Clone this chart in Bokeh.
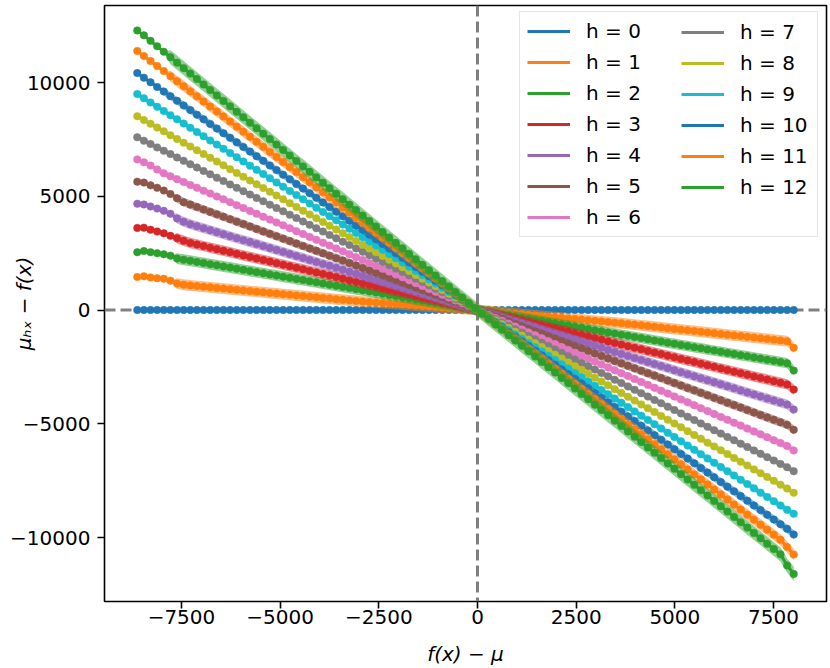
import math
from bokeh.plotting import figure
from bokeh.models import (Span, Legend, LegendItem, FixedTicker,
                          CustomJSTickFormatter, ColumnDataSource, Range1d)
from bokeh.embed import file_html
from bokeh.resources import INLINE

x_values = [
    -8620, -8452, -8284, -8116, -7948, -7780, -7612, -7444, -7276, -7108,
    -6940, -6772, -6604, -6436, -6268, -6100, -5932, -5764, -5596, -5428,
    -5260, -5092, -4924, -4756, -4588, -4420, -4252, -4084, -3916, -3748,
    -3580, -3412, -3244, -3076, -2908, -2740, -2572, -2404, -2236, -2068,
    -1900, -1732, -1564, -1396, -1228, -1060, -892, -724, -556, -388,
    -220, -52, 116, 284, 452, 620, 788, 956, 1124, 1292,
    1460, 1628, 1796, 1964, 2132, 2300, 2468, 2636, 2804, 2972,
    3140, 3308, 3476, 3644, 3812, 3980, 4148, 4316, 4484, 4652,
    4820, 4988, 5156, 5324, 5492, 5660, 5828, 5996, 6164, 6332,
    6500, 6668, 6836, 7004, 7172, 7340, 7508, 7676, 7844, 8012]

h0 = [
    0, 0, 0, 0, 0, 0, 0, 0, 0, 0,
    0, 0, 0, 0, 0, 0, 0, 0, 0, 0,
    0, 0, 0, 0, 0, 0, 0, 0, 0, 0,
    0, 0, 0, 0, 0, 0, 0, 0, 0, 0,
    0, 0, 0, 0, 0, 0, 0, 0, 0, 0,
    0, 0, 0, 0, 0, 0, 0, 0, 0, 0,
    0, 0, 0, 0, 0, 0, 0, 0, 0, 0,
    0, 0, 0, 0, 0, 0, 0, 0, 0, 0,
    0, 0, 0, 0, 0, 0, 0, 0, 0, 0,
    0, 0, 0, 0, 0, 0, 0, 0, 0, 0]

h1 = [
    1450, 1480, 1430, 1400, 1370, 1290, 1160, 1110, 1078, 1051,
    1023, 996, 968, 941, 914, 886, 859, 831, 804, 777,
    749, 722, 694, 667, 640, 612, 585, 557, 530, 503,
    475, 448, 420, 393, 369, 348, 327, 305, 284, 263,
    241, 220, 199, 177, 156, 135, 113, 92, 71, 49,
    28, 7, -19, -45, -72, -99, -126, -153, -180, -207,
    -234, -260, -287, -314, -341, -368, -395, -422, -449, -476,
    -502, -529, -556, -583, -610, -642, -674, -705, -737, -768,
    -800, -832, -863, -895, -926, -958, -990, -1021, -1053, -1084,
    -1116, -1148, -1179, -1211, -1242, -1274, -1306, -1337, -1369, -1660]

h2 = [
    2540, 2590, 2540, 2500, 2450, 2390, 2260, 2210, 2165, 2115,
    2065, 2015, 1965, 1915, 1865, 1815, 1765, 1715, 1665, 1615,
    1565, 1515, 1465, 1415, 1365, 1315, 1265, 1215, 1165, 1115,
    1065, 1015, 965, 915, 865, 815, 765, 715, 665, 615,
    565, 515, 465, 415, 365, 315, 265, 215, 165, 115,
    65, 15, -35, -85, -135, -185, -235, -285, -335, -385,
    -435, -485, -535, -585, -635, -685, -735, -785, -835, -885,
    -935, -985, -1035, -1085, -1135, -1185, -1235, -1285, -1335, -1385,
    -1435, -1485, -1535, -1585, -1635, -1685, -1735, -1785, -1835, -1885,
    -1935, -1985, -2035, -2085, -2135, -2185, -2235, -2285, -2335, -2660]

h3 = [
    3610, 3620, 3530, 3450, 3370, 3260, 3150, 3040, 2944, 2876,
    2808, 2740, 2672, 2604, 2536, 2468, 2400, 2332, 2264, 2196,
    2128, 2060, 1992, 1924, 1856, 1788, 1720, 1652, 1584, 1516,
    1448, 1380, 1312, 1244, 1176, 1108, 1040, 972, 904, 836,
    768, 700, 632, 564, 496, 428, 360, 292, 224, 156,
    88, 20, -49, -119, -189, -259, -329, -399, -469, -539,
    -609, -679, -749, -819, -889, -959, -1029, -1099, -1169, -1239,
    -1309, -1379, -1449, -1519, -1589, -1659, -1729, -1799, -1869, -1939,
    -2009, -2079, -2149, -2219, -2289, -2359, -2429, -2499, -2569, -2639,
    -2709, -2779, -2849, -2919, -2989, -3059, -3129, -3199, -3269, -3495]

h4 = [
    4670, 4640, 4550, 4460, 4360, 4230, 4020, 3880, 3767, 3680,
    3593, 3506, 3419, 3332, 3245, 3158, 3071, 2984, 2897, 2810,
    2723, 2636, 2549, 2462, 2375, 2288, 2201, 2114, 2027, 1940,
    1853, 1766, 1679, 1592, 1505, 1418, 1331, 1244, 1157, 1070,
    983, 896, 809, 722, 635, 548, 461, 374, 287, 200,
    113, 26, -62, -151, -240, -329, -418, -507, -596, -685,
    -774, -863, -952, -1041, -1130, -1219, -1308, -1397, -1486, -1575,
    -1664, -1753, -1842, -1931, -2020, -2109, -2198, -2287, -2376, -2465,
    -2554, -2643, -2732, -2821, -2910, -2999, -3088, -3177, -3266, -3355,
    -3444, -3533, -3622, -3711, -3800, -3889, -3978, -4067, -4156, -4375]

h5 = [
    5640, 5600, 5480, 5370, 5250, 5100, 4910, 4740, 4633, 4526,
    4419, 4312, 4205, 4098, 3991, 3884, 3777, 3670, 3563, 3456,
    3349, 3242, 3135, 3028, 2921, 2814, 2707, 2600, 2493, 2386,
    2279, 2172, 2065, 1958, 1851, 1744, 1637, 1530, 1423, 1316,
    1209, 1102, 995, 888, 781, 674, 567, 460, 353, 246,
    139, 32, -76, -184, -292, -400, -508, -616, -724, -832,
    -940, -1048, -1156, -1264, -1372, -1480, -1588, -1696, -1804, -1912,
    -2020, -2128, -2236, -2344, -2452, -2560, -2668, -2776, -2884, -2992,
    -3100, -3208, -3316, -3424, -3532, -3640, -3748, -3856, -3964, -4072,
    -4180, -4288, -4396, -4504, -4612, -4720, -4828, -4936, -5044, -5265]

h6 = [
    6620, 6490, 6350, 6180, 6007, 5880, 5753, 5626, 5499, 5372,
    5245, 5118, 4991, 4864, 4737, 4610, 4483, 4356, 4229, 4102,
    3975, 3848, 3721, 3594, 3467, 3340, 3213, 3086, 2959, 2832,
    2705, 2578, 2451, 2324, 2197, 2070, 1943, 1816, 1689, 1562,
    1435, 1308, 1181, 1054, 927, 800, 673, 546, 419, 292,
    165, 38, -90, -218, -346, -474, -602, -730, -858, -986,
    -1114, -1242, -1370, -1498, -1626, -1754, -1882, -2010, -2138, -2266,
    -2394, -2522, -2650, -2778, -2906, -3034, -3162, -3290, -3418, -3546,
    -3674, -3802, -3930, -4058, -4186, -4314, -4442, -4570, -4698, -4826,
    -4954, -5082, -5210, -5338, -5466, -5594, -5722, -5850, -5978, -6175]

h7 = [
    7592, 7444, 7296, 7148, 7000, 6852, 6704, 6556, 6408, 6260,
    6112, 5964, 5816, 5668, 5520, 5372, 5224, 5076, 4928, 4780,
    4632, 4484, 4336, 4188, 4040, 3892, 3744, 3596, 3448, 3300,
    3152, 3004, 2856, 2708, 2560, 2412, 2264, 2116, 1968, 1820,
    1672, 1524, 1376, 1228, 1080, 932, 784, 636, 488, 340,
    192, 44, -104, -252, -400, -548, -696, -844, -992, -1140,
    -1288, -1436, -1584, -1732, -1880, -2028, -2176, -2324, -2472, -2620,
    -2768, -2916, -3064, -3212, -3360, -3508, -3656, -3804, -3952, -4100,
    -4248, -4396, -4544, -4692, -4840, -4988, -5136, -5284, -5432, -5580,
    -5728, -5876, -6024, -6172, -6320, -6468, -6616, -6764, -6912, -7085]

h8 = [
    8516, 8350, 8184, 8018, 7852, 7686, 7520, 7354, 7188, 7022,
    6856, 6690, 6524, 6358, 6192, 6026, 5860, 5694, 5528, 5362,
    5196, 5030, 4864, 4698, 4532, 4366, 4200, 4034, 3868, 3702,
    3536, 3370, 3204, 3038, 2872, 2706, 2540, 2374, 2208, 2042,
    1876, 1710, 1544, 1378, 1212, 1046, 880, 714, 548, 382,
    216, 50, -118, -286, -454, -622, -790, -958, -1126, -1294,
    -1462, -1630, -1798, -1966, -2134, -2302, -2470, -2638, -2806, -2974,
    -3142, -3310, -3478, -3646, -3814, -3982, -4150, -4318, -4486, -4654,
    -4822, -4990, -5158, -5326, -5494, -5662, -5830, -5998, -6166, -6334,
    -6502, -6670, -6838, -7006, -7174, -7342, -7510, -7678, -7846, -8035]

h9 = [
    9490, 9305, 9120, 8935, 8750, 8565, 8380, 8195, 8010, 7825,
    7640, 7455, 7270, 7085, 6900, 6715, 6530, 6345, 6160, 5975,
    5790, 5605, 5420, 5235, 5050, 4865, 4680, 4495, 4310, 4125,
    3940, 3755, 3570, 3385, 3200, 3015, 2830, 2645, 2460, 2275,
    2090, 1905, 1720, 1535, 1350, 1165, 980, 795, 610, 425,
    240, 55, -132, -320, -508, -696, -884, -1072, -1260, -1448,
    -1636, -1824, -2012, -2200, -2388, -2576, -2764, -2952, -3140, -3328,
    -3516, -3704, -3892, -4080, -4268, -4456, -4644, -4832, -5020, -5208,
    -5396, -5584, -5772, -5960, -6148, -6336, -6524, -6712, -6900, -7088,
    -7276, -7464, -7652, -7840, -8028, -8216, -8404, -8592, -8780, -8960]

h10 = [
    10414, 10211, 10008, 9805, 9602, 9399, 9196, 8993, 8790, 8587,
    8384, 8181, 7978, 7775, 7572, 7369, 7166, 6963, 6760, 6557,
    6354, 6151, 5948, 5745, 5542, 5339, 5136, 4933, 4730, 4527,
    4324, 4121, 3918, 3715, 3512, 3309, 3106, 2903, 2700, 2497,
    2294, 2091, 1888, 1685, 1482, 1279, 1076, 873, 670, 467,
    264, 61, -144, -350, -556, -762, -968, -1174, -1380, -1586,
    -1792, -1998, -2204, -2410, -2616, -2822, -3028, -3234, -3440, -3646,
    -3852, -4058, -4264, -4470, -4676, -4882, -5088, -5294, -5500, -5706,
    -5912, -6118, -6324, -6530, -6736, -6942, -7148, -7354, -7560, -7766,
    -7972, -8178, -8384, -8590, -8796, -9002, -9208, -9414, -9620, -9870]

h11 = [
    11389, 11167, 10945, 10723, 10501, 10279, 10057, 9835, 9613, 9391,
    9169, 8947, 8725, 8503, 8281, 8059, 7837, 7615, 7393, 7171,
    6949, 6727, 6505, 6283, 6061, 5839, 5617, 5395, 5173, 4951,
    4729, 4507, 4285, 4063, 3841, 3619, 3397, 3175, 2953, 2731,
    2509, 2287, 2065, 1843, 1621, 1399, 1177, 955, 733, 511,
    289, 67, -155, -376, -597, -818, -1039, -1260, -1481, -1702,
    -1923, -2144, -2365, -2586, -2807, -3028, -3249, -3470, -3691, -3912,
    -4133, -4354, -4575, -4796, -5017, -5238, -5459, -5680, -5901, -6122,
    -6343, -6564, -6785, -7006, -7227, -7448, -7669, -7890, -8111, -8332,
    -8553, -8774, -8995, -9216, -9437, -9658, -9879, -10100, -10420, -10745]

h12 = [
    12290, 12072, 11832, 11592, 11352, 11112, 10872, 10632, 10392, 10152,
    9912, 9672, 9432, 9192, 8952, 8712, 8472, 8232, 7992, 7752,
    7512, 7272, 7032, 6792, 6552, 6312, 6072, 5832, 5592, 5352,
    5112, 4872, 4632, 4392, 4152, 3912, 3672, 3432, 3192, 2952,
    2712, 2472, 2232, 1992, 1752, 1512, 1272, 1032, 792, 552,
    312, 72, -165, -400, -635, -870, -1105, -1340, -1575, -1810,
    -2045, -2280, -2515, -2750, -2985, -3220, -3455, -3690, -3925, -4160,
    -4395, -4630, -4865, -5100, -5335, -5570, -5805, -6040, -6275, -6510,
    -6745, -6980, -7215, -7450, -7685, -7920, -8155, -8390, -8625, -8860,
    -9095, -9330, -9565, -9800, -10035, -10270, -10505, -10740, -11230, -11600]

series = [h0, h1, h2, h3, h4, h5, h6, h7, h8, h9, h10, h11, h12]
labels = ["h = 0", "h = 1", "h = 2", "h = 3", "h = 4", "h = 5", "h = 6",
          "h = 7", "h = 8", "h = 9", "h = 10", "h = 11", "h = 12"]
colors = ["#1f77b4", "#ff7f0e", "#2ca02c", "#d62728", "#9467bd", "#8c564b",
          "#e377c2", "#7f7f7f", "#bcbd22", "#17becf", "#1f77b4", "#ff7f0e",
          "#2ca02c"]
# half-width of the shaded band, left (x<0) and right (x>0) of the centre
band_left = [0, 240, 240, 230, 220, 190, 140, 100, 90, 110, 170, 240, 310]
band_right = [0, 240, 230, 230, 220, 200, 160, 130, 120, 140, 190, 250, 310]
band_start = [0, 6, 6, 6, 6, 6, 3, 0, 0, 0, 4, 5, 5]

x_ticks = [-7500, -5000, -2500, 0, 2500, 5000, 7500]
y_ticks = [-10000, -5000, 0, 5000, 10000]

FONT = "DejaVu Sans"

p = figure(width=828, height=668, output_backend="svg", toolbar_location=None,
           x_range=Range1d(-9450, 8842), y_range=Range1d(-12813, 13385),
           min_border_left=104, min_border_right=2, min_border_top=5,
           min_border_bottom=67)
p.xgrid.visible = False
p.ygrid.visible = False
p.background_fill_color = "white"
p.border_fill_color = "white"
p.outline_line_color = "black"
p.outline_line_width = 1.6
p.outline_line_alpha = 1.0

fmt = CustomJSTickFormatter(code="return tick < 0 ? '\u2212' + Math.abs(tick) : String(tick);")
for ax in (p.xaxis[0], p.yaxis[0]):
    ax.major_label_text_font = FONT
    ax.major_label_text_font_size = "20px"
    ax.major_label_text_color = "black"
    ax.major_tick_out = 7
    ax.major_tick_in = 0
    ax.major_tick_line_width = 1.6
    ax.major_tick_line_color = "black"
    ax.minor_tick_out = 0
    ax.minor_tick_in = 0
    ax.axis_line_color = None
    ax.formatter = fmt
    ax.axis_label_text_font = FONT
    ax.axis_label_text_font_size = "20px"
    ax.axis_label_text_font_style = "italic"
    ax.axis_label_text_color = "black"
p.xaxis[0].major_label_standoff = 1
p.yaxis[0].major_label_standoff = 7
p.xaxis[0].ticker = FixedTicker(ticks=x_ticks)
p.yaxis[0].ticker = FixedTicker(ticks=y_ticks)
p.xaxis[0].axis_label = "f(x) \u2212 \u03bc"
p.xaxis[0].axis_label_standoff = 15
p.yaxis[0].axis_label = "\u03bc\u2095\u2093 \u2212 f(x)"
p.yaxis[0].axis_label_standoff = -29

p.add_layout(Span(location=0, dimension="height", line_color="#808080",
                  line_width=3, line_dash="11 5", level="underlay"))
p.add_layout(Span(location=0, dimension="width", line_color="#808080",
                  line_width=3, line_dash="11 5", level="underlay"))

line_renderers = []
for h in range(13):
    ys = series[h]
    lo, hi = [], []
    for i, (xv, yv) in enumerate(zip(x_values, ys)):
        if xv < 0:
            w = band_left[h] if i >= band_start[h] else 0
        else:
            w = band_right[h]
        lo.append(yv - w)
        hi.append(yv + w)
    src = ColumnDataSource(dict(x=x_values, y=ys, lo=lo, hi=hi))
    p.varea(x="x", y1="lo", y2="hi", source=src, fill_color=colors[h],
            fill_alpha=0.5)
    r = p.line("x", "y", source=src, line_color=colors[h], line_width=3)
    p.scatter("x", "y", source=src, size=7.5, fill_color=colors[h],
              line_color=colors[h], line_width=0.5)
    line_renderers.append(r)

common = dict(label_text_font=FONT, label_text_font_size="20px",
              label_text_color="black",
              glyph_width=43, glyph_height=24, label_height=24,
              label_standoff=16, spacing=7, padding=7, margin=0)
leg1 = Legend(items=[LegendItem(label=labels[h], renderers=[line_renderers[h]])
                     for h in range(7)],
              location=(415, 364), label_width=224,
              border_line_color="#cccccc", border_line_width=1.5,
              background_fill_color="white", background_fill_alpha=0.8,
              **common)
leg2 = Legend(items=[LegendItem(label=labels[h], renderers=[line_renderers[h]])
                     for h in range(7, 13)],
              location=(570, 395), border_line_alpha=0,
              background_fill_alpha=0, **common)
p.add_layout(leg1)
p.add_layout(leg2)

open("out.html", "w").write(file_html(p, INLINE))
